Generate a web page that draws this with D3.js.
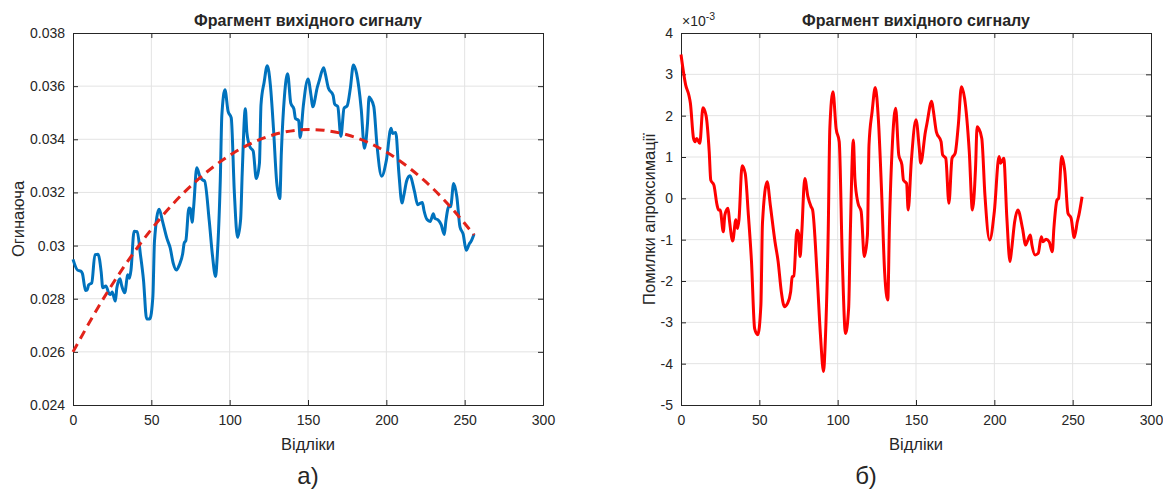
<!DOCTYPE html>
<html><head><meta charset="utf-8">
<script src="https://cdn.jsdelivr.net/npm/d3@7"></script>
<style>
body{margin:0;background:#fff}
svg{display:block}
text{font-family:"Liberation Sans",Arial,Helvetica,sans-serif;fill:#262626}
</style>
</head><body>
<svg id="c" width="1163" height="492"></svg>
<script>
// ---------- DATA ----------
const titleText = "Фрагмент вихідного сигналу";
const xLabelText = "Відліки";
const leftYLabel = "Огинаюча";
const rightYLabel = "Помилки апроксимації";
const xTicks = [0, 50, 100, 150, 200, 250, 300];
const leftYTicks = [0.024, 0.026, 0.028, 0.030, 0.032, 0.034, 0.036, 0.038];
const leftYTickLabels = ["0.024", "0.026", "0.028", "0.03", "0.032", "0.034", "0.036", "0.038"];
const rightYTicks = [-5, -4, -3, -2, -1, 0, 1, 2, 3, 4];
const rightYTickLabels = ["-5", "-4", "-3", "-2", "-1", "0", "1", "2", "3", "4"];
const rightExponent = "-3";

// sample indices of key points
const samples = [0,3,5,6,8,9,10,12,14,16,18,19,21,23,24,25,27,28,30,31,33,35,36,37,39,41,43,45,47,49,51,52,55,57,60,62,64,66,68,70,71,72,74,75,76,77,79,81,83,84,87,89,91,92,94,95,97,99,101,103,105,107,108,110,111,113,115,117,119,120,122,124,126,128,130,132,133,135,137,139,141,142,144,145,147,150,152,153,156,157,160,161,163,166,167,169,171,173,175,177,179,181,184,186,188,189,190,192,194,197,200,203,204,206,208,210,211,213,215,218,220,221,223,224,226,228,230,231,233,235,237,238,240,241,243,245,247,249,251,253,254,256];

// envelope signal (blue)
const envelope = [0.02948,0.02907,0.02904,0.02895,0.02831,0.02833,0.02852,0.02860,0.02966,0.02967,0.02900,0.02841,0.02848,0.02819,0.02816,0.02825,0.02791,0.02841,0.02875,0.02851,0.02822,0.02890,0.02877,0.02907,0.03054,0.03052,0.02968,0.02870,0.02724,0.02724,0.02810,0.03016,0.03137,0.03095,0.03026,0.02992,0.02933,0.02908,0.02929,0.02969,0.03010,0.03018,0.03141,0.03138,0.03088,0.03145,0.03293,0.03260,0.03246,0.03243,0.03091,0.02964,0.02884,0.02953,0.03243,0.03489,0.03586,0.03505,0.03481,0.03198,0.03031,0.03099,0.03271,0.03515,0.03425,0.03371,0.03356,0.03252,0.03309,0.03530,0.03615,0.03677,0.03603,0.03437,0.03240,0.03177,0.03351,0.03564,0.03647,0.03536,0.03514,0.03478,0.03471,0.03407,0.03525,0.03627,0.03562,0.03522,0.03597,0.03617,0.03669,0.03648,0.03593,0.03566,0.03533,0.03523,0.03411,0.03517,0.03526,0.03591,0.03680,0.03648,0.03512,0.03366,0.03462,0.03559,0.03552,0.03523,0.03380,0.03261,0.03320,0.03442,0.03422,0.03426,0.03273,0.03160,0.03184,0.03244,0.03263,0.03203,0.03154,0.03157,0.03162,0.03133,0.03098,0.03091,0.03120,0.03102,0.03097,0.03079,0.03042,0.03092,0.03148,0.03146,0.03234,0.03184,0.03070,0.03044,0.02982,0.03007,0.03015,0.03044];

// approximation errors (x 10^-3)
const errors = [3.48,2.74,2.50,2.30,1.45,1.37,1.45,1.33,2.19,2.00,1.13,0.44,0.32,-0.16,-0.28,-0.28,-0.81,-0.40,-0.24,-0.56,-1.03,-0.52,-0.73,-0.52,0.79,0.60,-0.40,-1.53,-3.15,-3.30,-2.58,-0.60,0.40,-0.16,-1.05,-1.53,-2.25,-2.62,-2.54,-2.26,-1.90,-1.88,-0.77,-0.85,-1.41,-0.89,0.48,0.04,-0.20,-0.28,-1.94,-3.30,-4.19,-3.55,-0.73,1.69,2.58,1.69,1.37,-1.53,-3.27,-2.66,-0.97,1.41,0.48,-0.12,-0.32,-1.41,-0.89,1.29,2.10,2.68,1.90,0.20,-1.80,-2.46,-0.73,1.37,2.18,1.05,0.81,0.44,0.36,-0.28,0.89,1.90,1.25,0.85,1.61,1.81,2.35,2.14,1.61,1.37,1.05,0.97,-0.12,0.97,1.09,1.77,2.70,2.42,1.13,-0.28,0.73,1.73,1.69,1.45,0.08,-1.01,-0.32,1.01,0.85,0.97,-0.48,-1.53,-1.25,-0.56,-0.28,-0.73,-1.13,-1.05,-0.89,-1.13,-1.37,-1.33,-0.93,-1.05,-0.99,-1.05,-1.29,-0.73,-0.04,0.00,1.01,0.65,-0.36,-0.48,-0.95,-0.56,-0.40,0.04];

// approximating curve (red dashed)
const fitSamples = [0,16,32,48,64,80,96,112,128,144,160,176,192,208,224,240,256];
const fitValues = [0.02600,0.02767,0.02916,0.03046,0.03158,0.03250,0.03324,0.03380,0.03417,0.03435,0.03434,0.03415,0.03378,0.03321,0.03246,0.03152,0.03040];

// ---------- DRAW ----------
const svg = d3.select("#c");
svg.append("rect").attr("width",1163).attr("height",492).attr("fill","#fff");

const plotTop = 33, plotBottom = 405;

function panel(cfg) {
  const g = svg.append("g");
  const x = d3.scaleLinear().domain([0, 300]).range([cfg.left, cfg.right]);
  const y = d3.scaleLinear().domain(cfg.yDomain).range([plotBottom, plotTop]);

  // grid
  g.append("g").selectAll("line").data(xTicks.slice(1, -1)).join("line")
    .attr("x1", d => x(d)).attr("x2", d => x(d)).attr("y1", plotTop).attr("y2", plotBottom)
    .attr("stroke", "#e3e3e3").attr("stroke-width", 1);
  g.append("g").selectAll("line").data(cfg.yTicks.slice(1, -1)).join("line")
    .attr("y1", d => y(d)).attr("y2", d => y(d)).attr("x1", cfg.left).attr("x2", cfg.right)
    .attr("stroke", "#e3e3e3").attr("stroke-width", 1);

  // axes (d3 axes with inward ticks)
  const ax = g.append("g").attr("transform", `translate(0,${plotBottom})`)
    .call(d3.axisBottom(x).tickValues(xTicks).tickSize(-5).tickPadding(10).tickFormat(d3.format("d")));
  const axT = g.append("g").attr("transform", `translate(0,${plotTop})`)
    .call(d3.axisTop(x).tickValues(xTicks).tickSize(-5).tickFormat(""));
  const ay = g.append("g").attr("transform", `translate(${cfg.left},0)`)
    .call(d3.axisLeft(y).tickValues(cfg.yTicks).tickSize(-5).tickPadding(8)
      .tickFormat((d, i) => cfg.yTickLabels[i]));
  const ayR = g.append("g").attr("transform", `translate(${cfg.right},0)`)
    .call(d3.axisRight(y).tickValues(cfg.yTicks).tickSize(-5).tickFormat(""));
  [ax, axT, ay, ayR].forEach(a => {
    a.select(".domain").attr("stroke", "#262626").attr("stroke-width", 1);
    a.selectAll(".tick line").attr("stroke", "#262626");
    a.selectAll("text").attr("font-size", 14).attr("fill", "#333")
      .attr("font-family", '"Liberation Sans", Arial, sans-serif');
  });

  // title
  g.append("text").attr("x", (cfg.left + cfg.right) / 2).attr("y", 26)
    .attr("text-anchor", "middle").attr("font-weight", "bold").attr("font-size", 16)
    .attr("fill", "#111").text(titleText);
  // x label
  g.append("text").attr("x", (cfg.left + cfg.right) / 2).attr("y", 450)
    .attr("text-anchor", "middle").attr("font-size", 16.5).attr("fill", "#333").text(xLabelText);
  // y label
  g.append("text").attr("transform", `translate(${cfg.yLabelX},${(plotTop + plotBottom) / 2}) rotate(-90)`)
    .attr("text-anchor", "middle").attr("font-size", 16.5).attr("fill", "#333").text(cfg.yLabel);
  // caption
  g.append("text").attr("x", cfg.captionX).attr("y", 484)
    .attr("text-anchor", "middle").attr("font-size", 24)
    .attr("font-family", '"Liberation Serif", "DejaVu Serif", serif').attr("fill", "#000")
    .text(cfg.caption);

  return {g, x, y};
}

// Left panel
const L = panel({left: 73, right: 543, yDomain: [0.024, 0.038], yTicks: leftYTicks,
  yTickLabels: leftYTickLabels, yLabel: leftYLabel, yLabelX: 24, caption: "а)", captionX: 308});

const lineL = d3.line().x((d, i) => L.x(samples[i])).y(d => L.y(d)).curve(d3.curveMonotoneX);
L.g.append("path").datum(envelope).attr("d", lineL).attr("fill", "none")
  .attr("stroke", "#0072BD").attr("stroke-width", 3).attr("stroke-linejoin", "round");
const fitLine = d3.line().x((d, i) => L.x(fitSamples[i])).y(d => L.y(d)).curve(d3.curveNatural);
L.g.append("path").datum(fitValues).attr("d", fitLine).attr("fill", "none")
  .attr("stroke", "#E2231A").attr("stroke-width", 3).attr("stroke-dasharray", "9,6");

// Right panel
const R = panel({left: 681, right: 1151, yDomain: [-5, 4], yTicks: rightYTicks,
  yTickLabels: rightYTickLabels, yLabel: rightYLabel, yLabelX: 655, caption: "б)", captionX: 866});

const lineR = d3.line().x((d, i) => R.x(samples[i])).y(d => R.y(d)).curve(d3.curveMonotoneX);
R.g.append("path").datum(errors).attr("d", lineR).attr("fill", "none")
  .attr("stroke", "#FF0000").attr("stroke-width", 3).attr("stroke-linejoin", "round");

// exponent label
const ex = R.g.append("text").attr("x", 682).attr("y", 26).attr("font-size", 14).attr("fill", "#444");
ex.append("tspan").text("×10");
ex.append("tspan").attr("dy", -6).attr("font-size", 10.5).text(rightExponent);
</script>
</body></html>
